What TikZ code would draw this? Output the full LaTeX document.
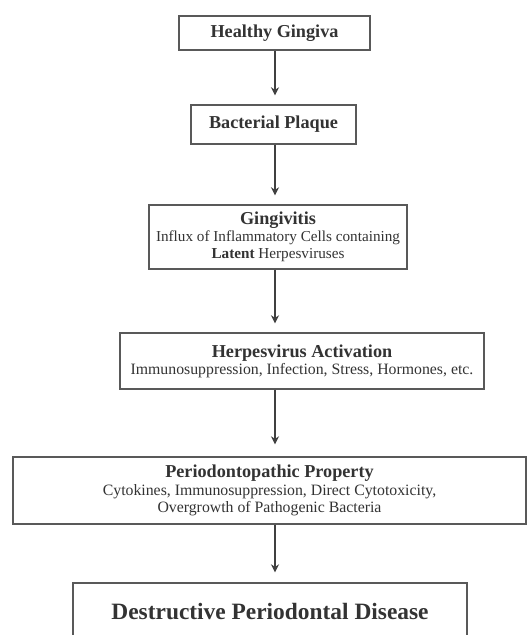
\documentclass[tikz,border=0pt]{standalone}
\usepackage{fontspec}
\setmainfont{Liberation Serif}
\usetikzlibrary{positioning, arrows.meta}

\begin{document}
\begin{tikzpicture}[x=0.5pt, y=-0.5pt, >={Stealth[length=4pt,width=4pt]},
    every node/.style={draw=black!65, line width=0.7pt, rectangle, align=center, inner sep=0pt, text=black!80},
    hd/.style={font=\fontsize{9.1}{10}\selectfont\bfseries},
    bd/.style={font=\fontsize{7.9}{8.6}\selectfont}]
    \useasboundingbox[fill=white] (0,0) rectangle (531,635);
    \coordinate (spine) at (275,0);

    \node (hg) [minimum width=95.5pt, minimum height=17pt, hd] at (274.5,33) {Healthy Gingiva};
    \node (bp) [minimum width=82.5pt, minimum height=19.5pt, hd] at (273.5,124.5) {Bacterial Plaque};
    \node (gi) [minimum width=129pt, minimum height=32pt, bd, font=\fontsize{7.6}{8.6}\selectfont] at (278,237)
        {{\fontsize{9.1}{10}\selectfont\bfseries Gingivitis}\\Influx of Inflammatory Cells containing\\\textbf{Latent} Herpesviruses};
    \node (ha) [minimum width=182pt, minimum height=28pt, bd] at (302,361)
        {{\fontsize{9.1}{10}\selectfont\bfseries Herpesvirus Activation}\\Immunosuppression, Infection, Stress, Hormones, etc.};
    \node (pp) [minimum width=256.5pt, minimum height=33.5pt, bd] at (269.5,490.5)
        {{\fontsize{9.1}{10}\selectfont\bfseries Periodontopathic Property}\\Cytokines, Immunosuppression, Direct Cytotoxicity,\\Overgrowth of Pathogenic Bacteria};
    \node (dp) [minimum width=197pt, minimum height=29pt, font=\fontsize{11.7}{13}\selectfont\bfseries] at (270,612)
        {Destructive Periodontal Disease};

    \draw[->, black!75, line width=0.6pt, shorten >=4.5pt] (hg.south -| spine) -- (bp.north -| spine);
    \draw[->, black!75, line width=0.6pt, shorten >=4.5pt] (bp.south -| spine) -- (gi.north -| spine);
    \draw[->, black!75, line width=0.6pt, shorten >=4.5pt] (gi.south -| spine) -- (ha.north -| spine);
    \draw[->, black!75, line width=0.6pt, shorten >=6pt] (ha.south -| spine) -- (pp.north -| spine);
    \draw[->, black!75, line width=0.6pt, shorten >=5pt] (pp.south -| spine) -- (dp.north -| spine);
\end{tikzpicture}
\end{document}
